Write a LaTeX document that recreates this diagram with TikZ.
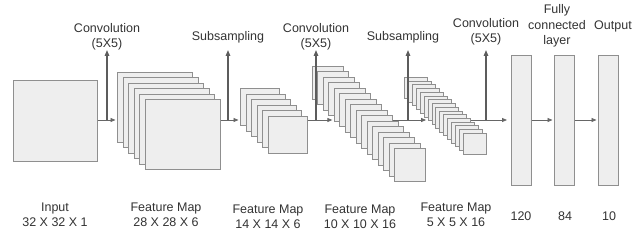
\documentclass[tikz,border=0pt]{standalone}
\usepackage{fontspec}
\setmainfont{Liberation Sans}
\usetikzlibrary{arrows.meta}
\definecolor{txt}{HTML}{333333}
\definecolor{cardfill}{HTML}{EEEEEE}
\definecolor{cardline}{HTML}{8F8F8F}
\definecolor{lne}{HTML}{666666}
\begin{document}
\begin{tikzpicture}[x=1pt,y=-1pt,
  card/.style={draw=cardline,fill=cardfill,line width=0.9pt,inner sep=0pt,anchor=north west},
  lbl/.style={text=txt,font=\fontsize{12.5}{15.5}\selectfont,align=center,inner sep=0pt},
  hline/.style={draw=lne,line width=0.8pt,-{Triangle[length=5pt,width=4pt]},shorten >=1.5pt},
  vline/.style={draw=lne!90!black,line width=1.4pt,-{Triangle[length=6pt,width=4.5pt]}}]
\useasboundingbox (0,0) rectangle (642,235);
% input
\node[card,minimum width=84pt,minimum height=81pt] (in) at (13,80) {};
% stacks
\foreach \k in {0,...,5}{
  \node[card,minimum width=75pt,minimum height=70pt] (s1-\k) at ({117+5.6*\k},{72+5.4*\k}) {};}
\foreach \k in {0,...,5}{
  \node[card,minimum width=39pt,minimum height=37pt] (s2-\k) at ({240+5.6*\k},{88+5.6*\k}) {};}
\foreach \k in {0,...,15}{
  \node[card,minimum width=31pt,minimum height=33pt] (s3-\k) at ({312+5.47*\k},{66+5.47*\k}) {};}
\foreach \k in {0,...,15}{
  \node[card,minimum width=23pt,minimum height=21pt] (s4-\k) at ({404+3.93*\k},{77+3.73*\k}) {};}
% fully connected
\node[card,minimum width=20pt,minimum height=130pt] (f1) at (511,55) {};
\node[card,minimum width=20pt,minimum height=130pt] (f2) at (554,55) {};
\node[card,minimum width=20pt,minimum height=130pt] (f3) at (598,55) {};
% junctions
\coordinate (c1) at (107,120);
\coordinate (c2) at (228,120);
\coordinate (c3) at (316,120);
\coordinate (c4) at (408,120);
\coordinate (c5) at (486,120);
% top labels
\node[lbl] (l1) at (107,37) {Convolution\\(5X5)};
\node[lbl] (l2) at (228,37) {Subsampling};
\node[lbl] (l3) at (316,37) {Convolution\\(5X5)};
\node[lbl] (l4) at (403,37) {Subsampling};
\node[lbl] (l5) at (486,32) {Convolution\\(5X5)};
\node[lbl] (l6) at (557,26) {Fully\\connected\\layer};
\node[lbl] (l7) at (613,26) {Output};
\coordinate (t1) at (107,50);
\coordinate (t2) at (228,50);
\coordinate (t3) at (316,50);
\coordinate (t4) at (408,50);
\coordinate (t5) at (486,50);
% horizontal connectors
\draw[hline] (in.east |- c1) -- (s1-0.west |- c1);
\draw[hline] (s1-5.east |- c2) -- (s2-0.west |- c2);
\draw[hline] (s2-5.east |- c3) -- (s3-4.west |- c3);
\draw[hline] (s3-9.east |- c4) -- (s4-6.west |- c4);
\draw[hline,shorten >=4pt] (s4-11.east |- c5) -- (f1.west |- c5);
\draw[hline] (f1.east |- c5) -- (f2.west |- c5);
\draw[hline] (f2.east |- c5) -- (f3.west |- c5);
% vertical connectors
\draw[vline] (c1) -- (t1);
\draw[vline] (c2) -- (t2);
\draw[vline] (c3) -- (t3);
\draw[vline] (c4) -- (t4);
\draw[vline] (c5) -- (t5);
% bottom labels
\node[lbl] (b1) at (55,215) {Input\\32 X 32 X 1};
\node[lbl] (b2) at (166,215) {Feature Map\\28 X 28 X 6};
\node[lbl] (b3) at (268,217) {Feature Map\\14 X 14 X 6};
\node[lbl] (b4) at (360,217) {Feature Map\\10 X 10 X 16};
\node[lbl] (b5) at (456,215) {Feature Map\\5 X 5 X 16};
\node[lbl] (b6) at (521,216) {120};
\node[lbl] (b7) at (565,216) {84};
\node[lbl] (b8) at (609,216) {10};
\end{tikzpicture}
\end{document}
